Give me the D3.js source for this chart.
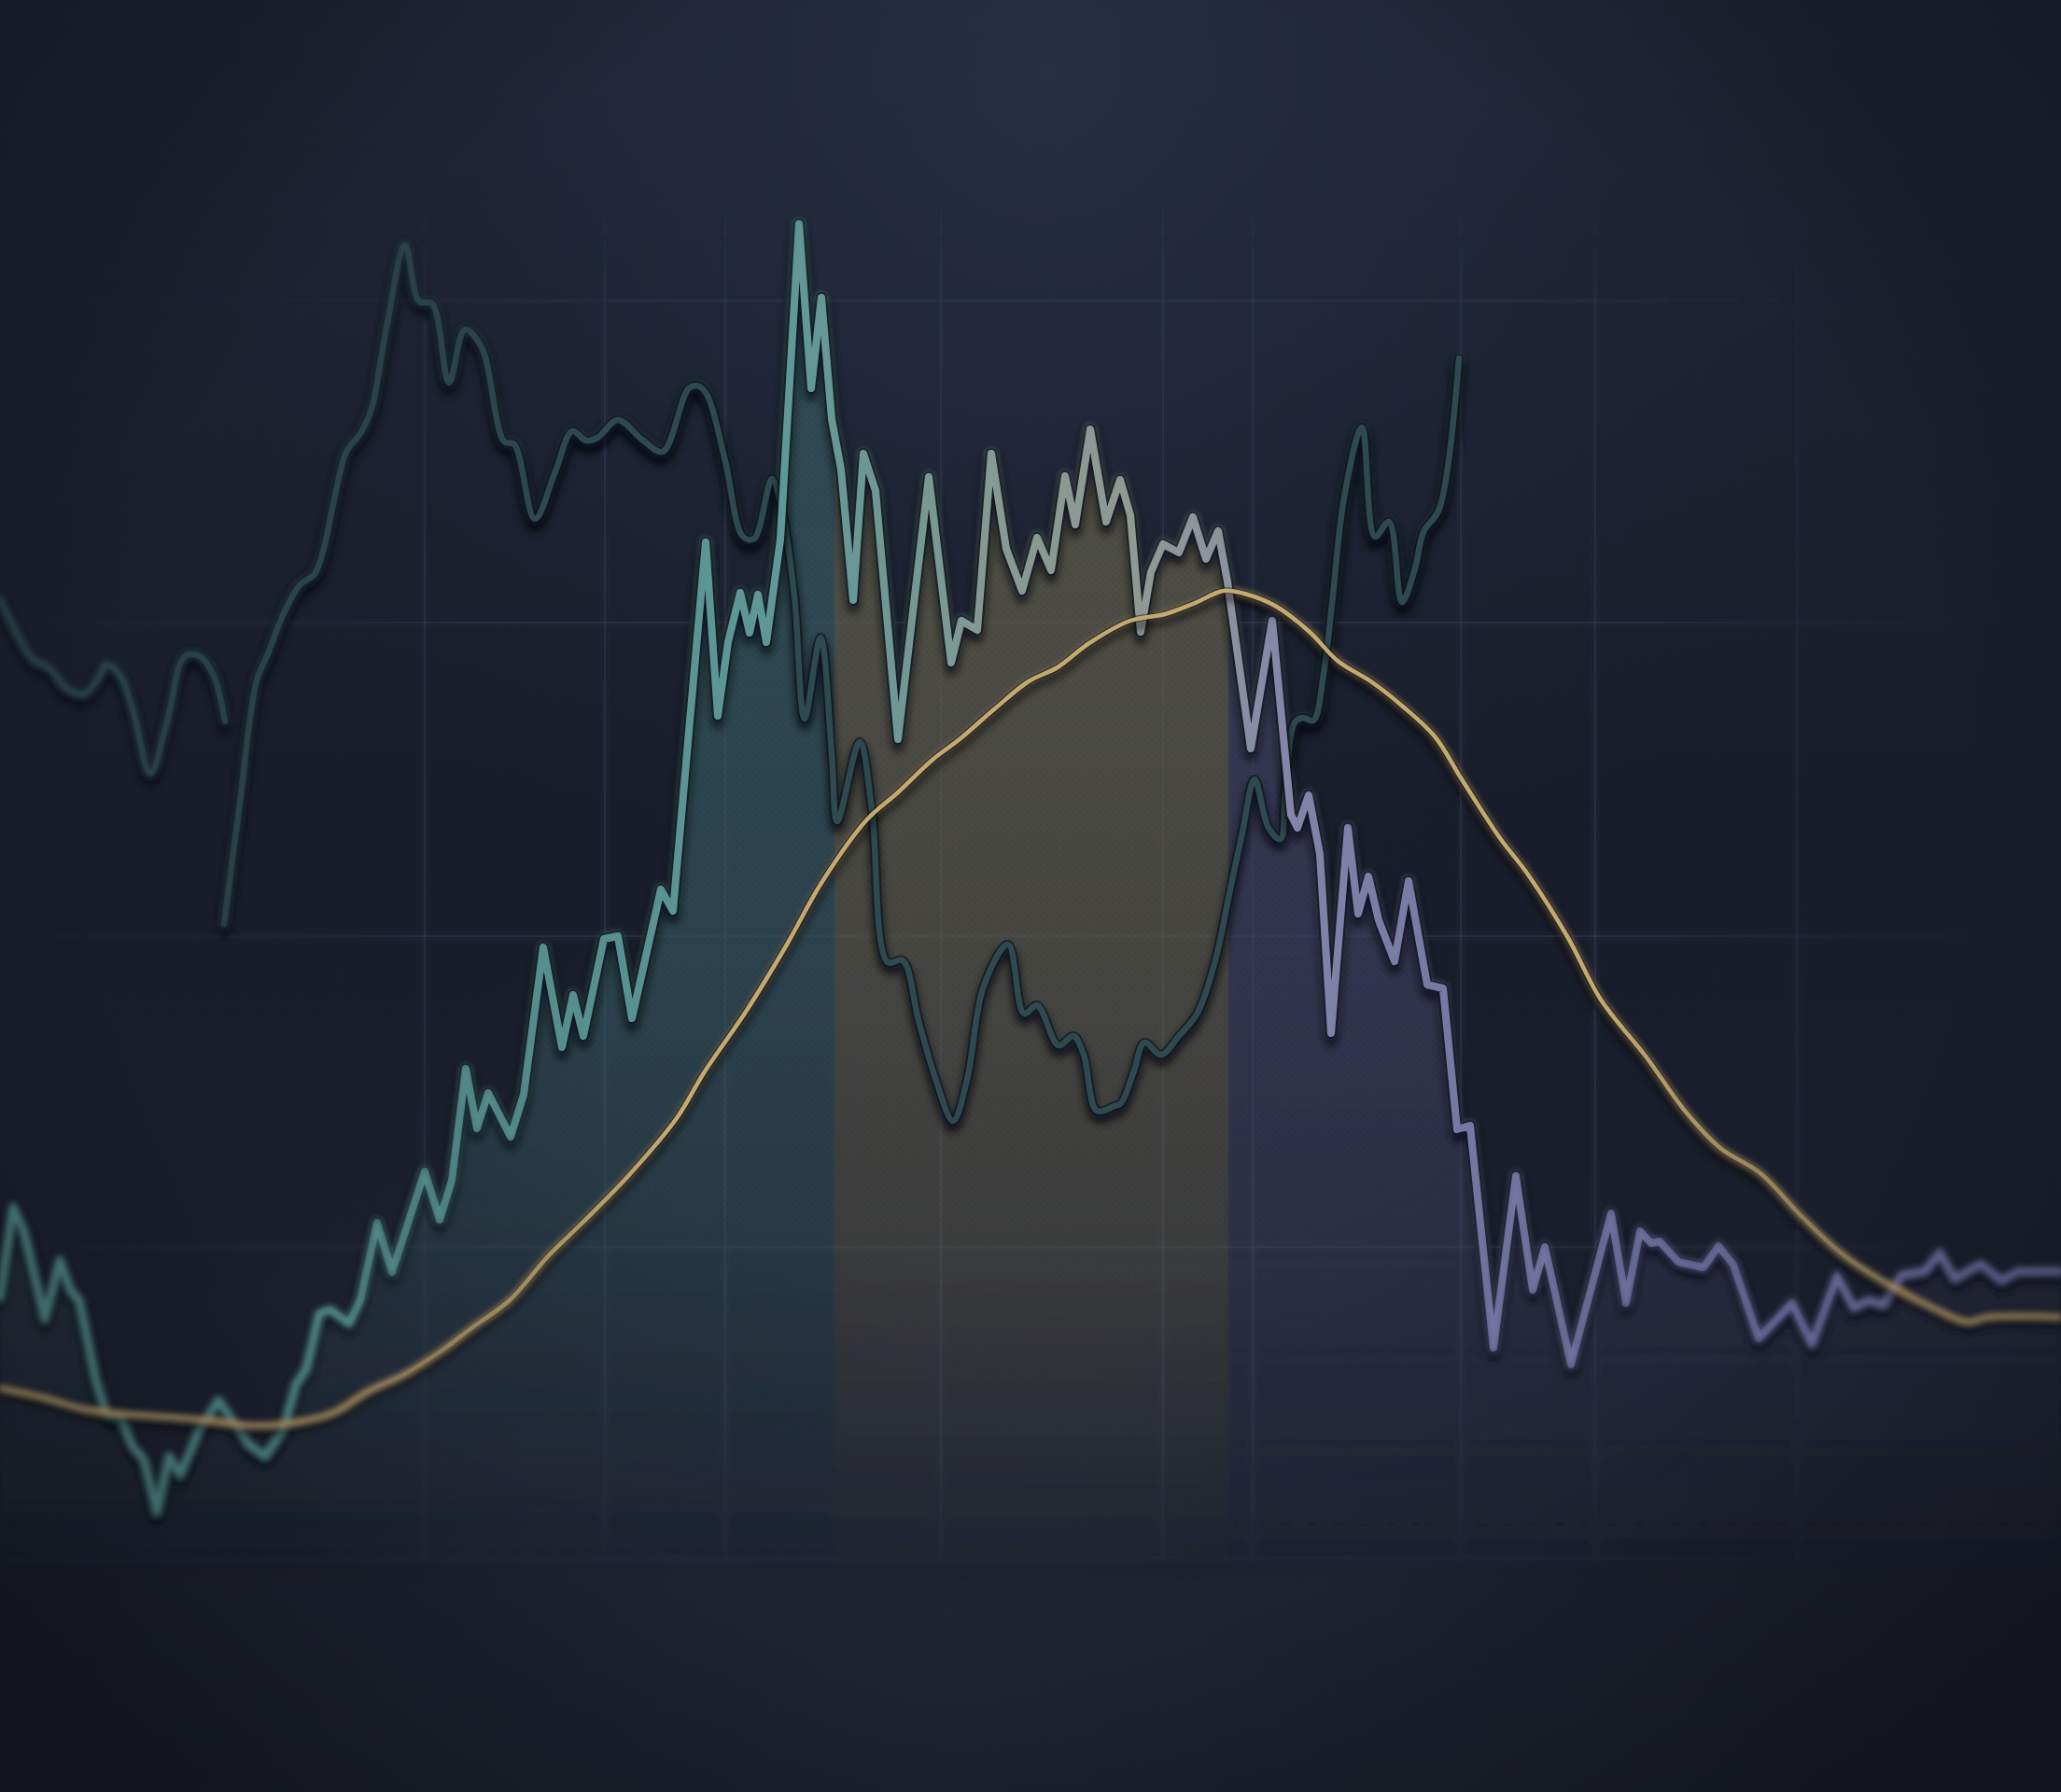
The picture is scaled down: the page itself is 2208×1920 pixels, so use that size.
<!DOCTYPE html>
<html><head><meta charset="utf-8">
<script src="https://cdn.jsdelivr.net/npm/d3@7/dist/d3.min.js"></script>
<style>html,body{margin:0;padding:0;background:#181c29;overflow:hidden}svg{display:block}</style>
</head><body>
<svg id="chart" width="2208" height="1920"></svg>
<script>
// ---------- DATA (t = time index, v = value) ----------
const mainSeries = [[0,31.0],[1.4,40.7],[2.6,38.0],[4.8,28.7],[6.4,35.0],[7.6,31.7],[8.5,30.7],[10.3,22.0],[11.5,18.3],[12.9,18.2],[14.2,15.0],[15.4,13.7],[16.8,8.0],[18.1,14.0],[19.3,12.0],[21.3,16.7],[23.4,20.0],[25.0,17.7],[26.6,15.3],[28.4,14.0],[30.3,16.7],[31.7,21.7],[32.8,23.3],[34.2,29.3],[35.4,29.7],[37.4,28.2],[38.6,30.7],[40.4,39.0],[42.0,33.7],[43.4,38.0],[45.5,44.5],[47.1,39.3],[48.4,43.5],[49.9,55.5],[51.1,49.1],[52.3,52.9],[54.7,48.2],[56.1,52.7],[58.2,68.5],[60.2,57.8],[61.4,63.4],[62.5,59.0],[64.7,69.4],[66.2,69.7],[67.7,60.9],[70.8,74.7],[72.1,72.4],[75.6,111.9],[76.9,93.3],[78.0,101.2],[79.3,106.5],[80.3,102.2],[81.2,106.3],[82.1,101.2],[83.6,112.2],[85.6,146.0],[86.9,128.4],[88.0,138.1],[89.1,125.1],[90.1,119.7],[91.4,105.7],[92.5,121.4],[93.8,117.4],[96.2,90.8],[99.5,118.9],[101.9,99.0],[103.0,103.5],[104.7,102.5],[106.2,121.4],[107.8,111.2],[109.5,106.7],[111.1,112.4],[112.6,108.9],[114.1,119.0],[115.2,113.8],[116.8,124.0],[118.5,114.1],[120.0,118.6],[121.1,114.8],[122.2,102.3],[123.3,108.7],[124.6,111.7],[126.3,110.8],[127.8,114.6],[129.2,110.1],[130.5,113.1],[131.5,107.7],[134.0,89.8],[136.3,103.5],[138.3,82.7],[139.0,81.3],[140.2,84.8],[141.4,78.5],[142.6,59.3],[144.4,81.3],[145.5,72.1],[146.6,76.1],[147.7,71.4],[149.4,67.0],[150.9,75.6],[152.9,64.5],[154.6,64.1],[156.1,49.0],[157.5,49.4],[160.0,25.6],[162.4,44.0],[164.2,31.8],[165.5,36.4],[168.3,23.8],[172.6,40.0],[174.2,30.4],[175.7,38.1],[176.9,36.8],[177.8,37.0],[179.8,34.8],[182.5,34.2],[184.1,36.5],[185.7,34.5],[188.4,26.6],[192.0,30.4],[194.1,26.0],[196.8,33.3],[198.6,29.9],[200.2,30.7],[201.8,30.2],[203.7,33.4],[206.2,33.8],[207.8,35.8],[209.4,33.0],[212.2,34.6],[214.4,32.8],[216.2,33.8],[220.8,33.8]];

const secondarySegmentA = [[0,105.8],[1.4,102.9],[3.6,99.3],[5.2,98.5],[7.1,96.3],[8.9,95.6],[10.4,97.1],[11.4,98.8],[12.9,97.6],[14.3,93.7],[16.1,87.1],[17.9,92.7],[19.8,99.7],[21.4,99.7],[22.9,97.6],[24.1,92.7]];

const secondarySegmentB = [[24.0,71.0],[25.7,84.0],[27.5,97.1],[28.6,99.7],[30.4,104.3],[32.1,107.3],[33.7,108.5],[34.6,110.9],[36.1,117.9],[37.1,121.6],[38.7,123.7],[39.8,126.2],[41.4,134.9],[43.4,143.8],[44.9,137.7],[46.3,137.5],[48.1,129.0],[49.8,134.7],[51.6,132.8],[54.0,122.7],[55.1,122.4],[57.3,114.4],[59.5,119.5],[61.3,123.8],[62.8,122.8],[64.0,123.1],[66.2,125.0],[68.8,122.9],[71.0,121.6],[73.8,128.4],[74.9,128.6],[75.8,127.6],[77.7,120.6],[79.6,112.5],[80.8,112.3],[82.7,118.7],[83.8,115.2],[85.1,106.2],[86.2,93.0],[87.9,101.7],[89.1,89.3],[89.7,82.0],[92.1,90.5],[93.4,83.3],[95.1,66.9],[96.7,67.1],[98.4,60.7],[100.2,54.5],[102.1,49.9],[103.6,54.3],[105.4,64.4],[108.0,68.8],[109.7,61.4],[111.1,62.3],[113.4,58.0],[115.0,59.0],[116.1,57.0],[117.5,51.0],[119.4,51.5],[120.1,51.8],[121.5,55.3],[122.6,58.3],[124.4,57.0],[126.3,59.0],[128.3,61.5],[130.2,67.1],[131.8,74.7],[133.1,80.8],[134.4,86.5],[135.9,81.3],[137.2,80.1],[137.7,85.1],[138.7,92.6],[139.6,93.1],[140.7,92.8],[141.8,97.8],[142.7,105.3],[144.0,116.7],[145.9,124.2],[147.3,112.5],[148.8,114.1],[150.2,105.5],[151.6,109.1],[152.5,113.0],[154.2,115.5],[156.3,131.6]];

const trendSeries = [[0,21.3],[4.6,20.3],[9.2,19.0],[13.8,18.5],[20.7,18.0],[27.5,17.3],[32.1,17.7],[35.8,18.7],[39.5,21.0],[43.2,22.7],[47.3,25.3],[50.5,27.7],[54.6,30.7],[58.8,35.5],[62.5,39.1],[67.3,44.0],[72.5,50.2],[75.5,55.2],[79.9,61.6],[84.3,68.8],[88.0,75.4],[92.8,82.1],[96.2,85.1],[99.9,88.6],[102.8,90.8],[106.5,94.0],[110.2,97.0],[113.3,98.5],[116.7,101.1],[121.1,103.5],[124.8,104.2],[127.8,105.3],[131.1,106.7],[133.3,106.4],[136.6,105.1],[140.3,102.3],[143.3,99.2],[147.0,96.9],[150.3,94.3],[153.7,91.1],[156.6,86.5],[160.7,80.2],[163.7,76.3],[168.0,69.5],[171.5,62.9],[176.4,56.7],[180.5,51.0],[184.3,47.0],[188.6,44.3],[193.0,39.7],[197.3,35.7],[202.0,32.6],[207.5,29.7],[210.7,28.4],[212.9,28.9],[216.5,29.0],[220.8,28.9]];

const gridX = [45.5, 64.8, 77.7, 100.8, 124.6, 134.2, 156.5, 170.9, 192.5];
const gridY = [137.8, 103.3, 69.7, 36.4, 3.1];
const bandEdges = [0, 89.4, 131.6, 220.8];
const bandNames = ["rise", "plateau", "decline"];
const bandColors = ["#33515a", "#58564a", "#3d3d5c"];

// ---------- SETUP ----------
const W = 2208, H = 1920;
const x = d3.scaleLinear().domain([0, 220.8]).range([0, W]);
const y = d3.scaleLinear().domain([0, 140]).range([1700, 300]);

const svg = d3.select("#chart");
const defs = svg.append("defs");

// background gradients
const bgLin = defs.append("linearGradient").attr("id","bgLin").attr("x1",0).attr("y1",0).attr("x2",0).attr("y2",1);
[[0,"#1e2434"],[0.45,"#191d2b"],[0.8,"#1b1f2d"],[1,"#1b1f2c"]].forEach(s=>bgLin.append("stop").attr("offset",s[0]).attr("stop-color",s[1]));
const bgGlow = defs.append("radialGradient").attr("id","bgGlow").attr("gradientUnits","userSpaceOnUse")
  .attr("cx",1120).attr("cy",80).attr("r",1000);
[[0,"#2a3448",0.7],[0.5,"#243044",0.3],[1,"#1a2030",0]].forEach(s=>bgGlow.append("stop").attr("offset",s[0]).attr("stop-color",s[1]).attr("stop-opacity",s[2]));
const vign = defs.append("radialGradient").attr("id","vign").attr("cx",0.5).attr("cy",0.45).attr("r",0.75);
[[0,"#000",0],[0.6,"#000",0],[1,"#05070c",0.45]].forEach(s=>vign.append("stop").attr("offset",s[0]).attr("stop-color",s[1]).attr("stop-opacity",s[2]));
const botGlow = defs.append("radialGradient").attr("id","botGlow").attr("gradientUnits","userSpaceOnUse")
  .attr("cx",1000).attr("cy",1820).attr("r",900);
[[0,"#252a3a",0.5],[1,"#252a3a",0]].forEach(s=>botGlow.append("stop").attr("offset",s[0]).attr("stop-color",s[1]).attr("stop-opacity",s[2]));

// fill vertical fade
bandColors.forEach((c,i)=>{
  const g = defs.append("linearGradient").attr("id","bandFill"+i).attr("gradientUnits","userSpaceOnUse")
    .attr("x1",0).attr("x2",0).attr("y1",y(146)).attr("y2",y(-2));
  [[0,0.66],[0.32,0.57],[0.52,0.48],[0.72,0.33],[0.86,0.17],[0.97,0.02],[1,0]].forEach(s=>g.append("stop").attr("offset",s[0]).attr("stop-color",c).attr("stop-opacity",s[1]));
});
// band clip paths
bandNames.forEach((n,i)=>{
  defs.append("clipPath").attr("id","clip-"+n).append("rect")
    .attr("x",x(bandEdges[i])).attr("y",0).attr("width",x(bandEdges[i+1])-x(bandEdges[i])).attr("height",H);
});
// dot texture
const pat = defs.append("pattern").attr("id","dots").attr("patternUnits","userSpaceOnUse").attr("width",7).attr("height",7);
pat.append("circle").attr("cx",2).attr("cy",2).attr("r",0.9).attr("fill","#000").attr("opacity",0.2);
pat.append("circle").attr("cx",5.5).attr("cy",5.5).attr("r",0.9).attr("fill","#000").attr("opacity",0.2);
const dotFade = defs.append("linearGradient").attr("id","dotFade").attr("gradientUnits","userSpaceOnUse")
  .attr("x1",0).attr("x2",0).attr("y1",y(146)).attr("y2",y(-2));
[[0,"#fff",1],[0.7,"#fff",0.6],[1,"#fff",0]].forEach(s=>dotFade.append("stop").attr("offset",s[0]).attr("stop-color",s[1]).attr("stop-opacity",s[2]));
defs.append("mask").attr("id","dotMask").attr("maskUnits","userSpaceOnUse").attr("x",0).attr("y",0).attr("width",W).attr("height",H)
  .append("rect").attr("width",W).attr("height",H).attr("fill","url(#dotFade)");

// main line gradient
const lg = defs.append("linearGradient").attr("id","mainStroke").attr("gradientUnits","userSpaceOnUse")
  .attr("x1",0).attr("x2",W).attr("y1",0).attr("y2",0);
[[0,"#4b7f80"],[0.25,"#558c8c"],[0.38,"#5f9898"],[0.43,"#6f9794"],[0.48,"#849a92"],[0.55,"#8f9a93"],[0.595,"#8d929e"],[0.625,"#8385aa"],[0.68,"#797ba6"],[0.8,"#6e6f9e"],[1,"#656696"]]
  .forEach(s=>lg.append("stop").attr("offset",s[0]).attr("stop-color",s[1]));

// grid masks
const gmH = defs.append("linearGradient").attr("id","gmH").attr("gradientUnits","userSpaceOnUse").attr("x1",0).attr("x2",W).attr("y1",0).attr("y2",0);
[[0,0.3],[0.2,1],[0.8,1],[0.98,0.1]].forEach(s=>gmH.append("stop").attr("offset",s[0]).attr("stop-color","#fff").attr("stop-opacity",s[1]));
defs.append("mask").attr("id","gridMaskH").attr("maskUnits","userSpaceOnUse").attr("x",0).attr("y",0).attr("width",W).attr("height",H)
  .append("rect").attr("width",W).attr("height",H).attr("fill","url(#gmH)");
const gmV = defs.append("linearGradient").attr("id","gmV").attr("gradientUnits","userSpaceOnUse").attr("x1",0).attr("x2",0).attr("y1",150).attr("y2",1720);
[[0,0],[0.15,0.7],[0.85,1],[1,0.3]].forEach(s=>gmV.append("stop").attr("offset",s[0]).attr("stop-color","#fff").attr("stop-opacity",s[1]));
defs.append("mask").attr("id","gridMaskV").attr("maskUnits","userSpaceOnUse").attr("x",0).attr("y",0).attr("width",W).attr("height",H)
  .append("rect").attr("width",W).attr("height",H).attr("fill","url(#gmV)");

// filters
const sh = defs.append("filter").attr("id","lineShadow").attr("filterUnits","userSpaceOnUse").attr("x",-50).attr("y",-50).attr("width",W+100).attr("height",H+100);
sh.append("feDropShadow").attr("dx",0).attr("dy",7).attr("stdDeviation",5).attr("flood-color","#04060b").attr("flood-opacity",0.75);
const dof = defs.append("filter").attr("id","dof").attr("filterUnits","userSpaceOnUse").attr("x",-50).attr("y",-50).attr("width",W+100).attr("height",H+100);
dof.append("feGaussianBlur").attr("stdDeviation",3.4);
const fm = defs.append("radialGradient").attr("id","focusGrad").attr("cx",0.52).attr("cy",0.42).attr("r",0.5);
[[0,"#fff"],[0.58,"#fff"],[1,"#000"]].forEach(s=>fm.append("stop").attr("offset",s[0]).attr("stop-color",s[1]));
defs.append("mask").attr("id","focusMask").attr("maskUnits","userSpaceOnUse").attr("x",0).attr("y",0).attr("width",W).attr("height",H)
  .append("rect").attr("width",W).attr("height",H).attr("fill","url(#focusGrad)");

// ---------- BACKGROUND ----------
svg.append("rect").attr("width",W).attr("height",H).attr("fill","url(#bgLin)");
svg.append("rect").attr("width",W).attr("height",H).attr("fill","url(#bgGlow)");
svg.append("rect").attr("width",W).attr("height",H).attr("fill","url(#botGlow)");

// ---------- SCENE (defined once, rendered sharp + blurred) ----------
const scene = defs.append("g").attr("id","scene");

// grid
const gridOuter = scene.append("g").attr("mask","url(#gridMaskH)");
const grid = gridOuter.append("g").attr("mask","url(#gridMaskV)").attr("stroke","#5a6482").attr("stroke-opacity",0.22).attr("stroke-width",2.2);
grid.selectAll("line.gx").data(gridX).join("line").attr("class","gx")
  .attr("x1",d=>x(d)).attr("x2",d=>x(d)).attr("y1",y(150)).attr("y2",y(3.1));
grid.selectAll("line.gy").data(gridY).join("line").attr("class","gy")
  .attr("x1",0).attr("x2",W).attr("y1",d=>y(d)).attr("y2",d=>y(d));

// band fills under main series
const area = d3.area().x(d=>x(d[0])).y0(y(-2)).y1(d=>y(d[1])).curve(d3.curveLinear);
bandNames.forEach((n,i)=>{
  const g = scene.append("g").attr("clip-path","url(#clip-"+n+")");
  g.append("path").datum(mainSeries).attr("d",area).attr("fill","url(#bandFill"+i+")");
  g.append("g").attr("mask","url(#dotMask)")
    .append("path").datum(mainSeries).attr("d",area).attr("fill","url(#dots)").attr("opacity",0.55);
});

// secondary (dark teal) line
const lineSmooth = d3.line().x(d=>x(d[0])).y(d=>y(d[1])).curve(d3.curveCatmullRom.alpha(0.5));
const secG = scene.append("g").attr("filter","url(#lineShadow)");
[secondarySegmentA, secondarySegmentB].forEach(seg=>{
  secG.append("path").datum(seg).attr("d",lineSmooth).attr("fill","none")
    .attr("stroke","#0e141b").attr("stroke-opacity",0.7).attr("stroke-width",10).attr("stroke-linejoin","round").attr("stroke-linecap","round");
  secG.append("path").datum(seg).attr("d",lineSmooth).attr("fill","none")
    .attr("stroke","#2d484f").attr("stroke-width",6.5).attr("stroke-linejoin","round").attr("stroke-linecap","round");
});

// main line
const lineMain = d3.line().x(d=>x(d[0])).y(d=>y(d[1])).curve(d3.curveLinear);
const mainG = scene.append("g").attr("filter","url(#lineShadow)");
mainG.append("path").datum(mainSeries).attr("d",lineMain).attr("fill","none")
  .attr("stroke","#0c1017").attr("stroke-opacity",0.6).attr("stroke-width",12).attr("stroke-linejoin","round");
mainG.append("path").datum(mainSeries).attr("d",lineMain).attr("fill","none")
  .attr("stroke","url(#mainStroke)").attr("stroke-width",8).attr("stroke-linejoin","round").attr("stroke-linecap","round");

// trend (yellow) line
const trG = scene.append("g").attr("filter","url(#lineShadow)");
trG.append("path").datum(trendSeries).attr("d",lineSmooth).attr("fill","none")
  .attr("stroke","#0c1017").attr("stroke-opacity",0.45).attr("stroke-width",7);
trG.append("path").datum(trendSeries).attr("d",lineSmooth).attr("fill","none")
  .attr("stroke","#c4a970").attr("stroke-width",4.5).attr("stroke-linecap","round");

// render: blurred copy, then sharp copy masked to the focal area
svg.append("use").attr("href","#scene").attr("filter","url(#dof)");
svg.append("use").attr("href","#scene").attr("mask","url(#focusMask)");

// vignette
svg.append("rect").attr("width",W).attr("height",H).attr("fill","url(#vign)");
</script>
</body></html>
